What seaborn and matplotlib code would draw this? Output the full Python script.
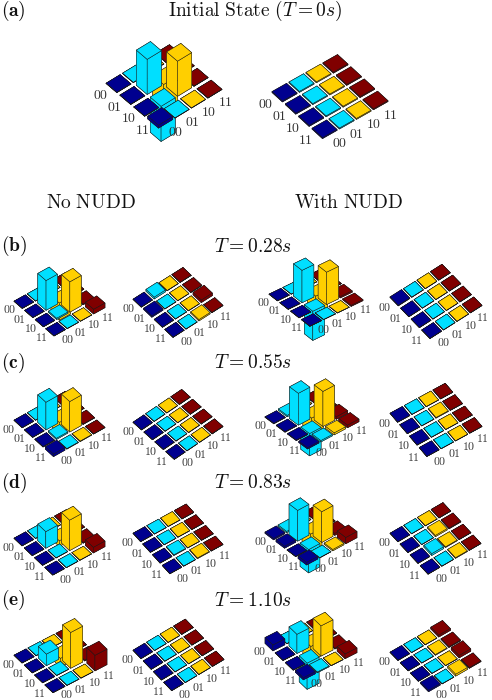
import math
import numpy as np
import matplotlib
matplotlib.use("Agg")
import matplotlib.pyplot as plt
import seaborn as sns
from mpl_toolkits.mplot3d import proj3d

sns.set_theme(style="white")
plt.rcParams["mathtext.fontset"] = "cm"

states = ["00", "01", "10", "11"]
column_colors = ["#00008f", "#00dfff", "#ffcf00", "#800000"]

a_no = [[.003, .003, .003, .003], [.003, .50, -.50, .003], [.003, -.50, .50, .003], [.04, .003, .003, .003]]
a_with = [[.012, .012, .012, .012], [.012, .012, .012, .012], [.012, .012, .012, .012], [.012, .012, .012, .012]]
b_no = [[.003, .003, .003, .003], [.003, .52, -.30, .003], [.003, .02, .53, .01], [.003, .003, .003, .08]]
b_no2 = [[.003, .035, .003, .003], [.025, .003, .003, .003], [.003, .003, .003, .05], [.003, .003, .025, .003]]
b_with = [[.003, .003, .003, .003], [.003, .50, -.30, .003], [.003, -.45, .50, .02], [.003, .003, .003, .015]]
b_with2 = [[.01, .003, .003, .003], [.003, .003, .003, .003], [.003, .003, .003, .003], [.003, .003, .003, .003]]
c_no = [[.003, .003, .003, .003], [.003, .50, -.20, .003], [.008, .02, .55, .008], [.045, .008, .008, .003]]
c_no2 = [[.003, .003, .003, .003], [.003, .003, .003, .003], [.003, .003, .003, .003], [.003, .003, .003, .003]]
c_with = [[.008, .02, .003, .003], [.008, .50, -.30, .003], [.008, -.35, .55, .04], [.02, .02, .03, .04]]
c_with2 = [[.003, .003, .003, .003], [.003, .003, .012, .003], [.003, .003, .003, .003], [.003, .003, .003, .003]]
d_no = [[.003, .003, .003, .003], [.003, .30, -.10, .003], [.003, .003, .55, .012], [.003, .003, .003, .10]]
d_no2 = [[.003, .003, .003, .003], [.003, .003, .003, .003], [.003, .012, .003, .003], [.003, .003, .012, .003]]
d_with = [[.02, .02, .003, .003], [.03, .50, -.30, .003], [.003, -.38, .50, .03], [.04, .003, .02, .10]]
d_with2 = [[.003, .003, .003, .003], [.003, .003, .025, .012], [.003, .035, .012, .003], [.003, .003, .012, .003]]
e_no = [[.003, .003, .003, .003], [.003, .20, -.15, .003], [.003, .003, .62, .012], [.003, .003, .003, .27]]
e_no2 = [[.003, .003, .003, .003], [.003, .003, .003, .003], [.003, .003, .003, .003], [.003, .003, .003, .003]]
e_with = [[.10, .003, .003, .003], [.003, .33, -.25, .003], [.003, -.45, .52, .012], [.035, .012, .003, .08]]
e_with2 = [[.003, .003, .003, .035], [.003, .003, .012, .012], [.003, .003, .003, .045], [.025, .003, .035, .012]]

panels = [a_no, a_with,
          b_no, b_no2, b_with, b_with2,
          c_no, c_no2, c_with, c_with2,
          d_no, d_no2, d_with, d_with2,
          e_no, e_no2, e_with, e_with2]

# layout: tile corners in pixels (from top-left) and camera elevation per panel
left_px = [(106, 83), (272, 92),
           (14, 301), (133, 299), (269, 294), (390, 297),
           (14, 420), (133, 422), (265, 417), (390, 413),
           (14, 538), (133, 533), (265, 533), (390, 533),
           (14, 655), (133, 650), (265, 643), (390, 652)]
right_px = [(222, 90), (388, 102),
            (105, 308), (223, 306), (363, 301), (482, 306),
            (105, 428), (223, 427), (359, 422), (482, 427),
            (105, 547), (223, 545), (357, 538), (481, 544),
            (107, 665), (224, 660), (357, 653), (481, 662)]
elevs = [46, 46,
         44, 51, 38, 54,
         46, 51, 39, 53,
         46, 51, 40, 52,
         45, 52, 44, 50]

W, H = 492, 700
fig = plt.figure(figsize=(W / 100, H / 100), dpi=100)
fig.patch.set_facecolor("white")
palette = sns.color_palette(column_colors)
GAP_X = 0.11
GAP_Y = 0.07


def project(ax, X, Y, Z):
    xs, ys, _ = proj3d.proj_transform(np.asarray(X, float), np.asarray(Y, float), np.asarray(Z, float), ax.get_proj())
    ax.apply_aspect()
    return ax.transData.transform(np.column_stack([xs, ys]))


def place(ax, lp, rp):
    trial = 300
    ax.set_position([0, 0, trial / W, trial / H])
    pts = project(ax, [GAP_X, 4 - GAP_X], [GAP_Y, 4 - GAP_Y], [0, 0])
    scale = (rp[0] - lp[0]) / (pts[1, 0] - pts[0, 0])
    mid = pts.mean(axis=0)
    cx, cy = (lp[0] + rp[0]) / 2, H - (lp[1] + rp[1]) / 2
    x0, y0 = cx - mid[0] * scale, cy - mid[1] * scale
    size = trial * scale
    ax.set_position([x0 / W, y0 / H, size / W, size / H])


for n, rho in enumerate(panels):
    lp, rp, elev = left_px[n], right_px[n], elevs[n]
    ax = fig.add_subplot(projection="3d", computed_zorder=False)
    ax.set_proj_type("ortho")
    r = (rp[1] - lp[1]) / (rp[0] - lp[0])
    azim = math.degrees(math.atan(r / math.sin(math.radians(elev)))) - 45
    ax.view_init(elev=elev, azim=azim)
    order = 0
    for i in range(4):
        for j in range(3, -1, -1):
            v = rho[i][j]
            ax.bar3d(i + GAP_X, j + GAP_Y, min(v, 0), 1 - 2 * GAP_X, 1 - 2 * GAP_Y, abs(v),
                     color=palette[j], shade=False, edgecolor="#1a1a1a",
                     linewidth=0.35, zorder=order)
            order += 1
    ax.set_xlim(0, 4)
    ax.set_ylim(0, 4)
    ax.set_zlim(-1, 1)
    ax.set_box_aspect((4, 4, 9.4))
    ax.set_axis_off()
    ax.patch.set_alpha(0)
    place(ax, lp, rp)
    bold = n < 2
    fs = 10 if bold else 8.5
    for k, s in enumerate(states):
        lab = rf"$\mathbf{{{s}}}$" if bold else f"${s}$"
        for X, Y in [(k + .5, -0.6), (4.62, k + .5)]:
            px, py = project(ax, [X], [Y], [0])[0]
            px = min(px, W - 10)
            py = max(py, 6)
            fig.text(px / W, py / H, lab, fontsize=fs, ha="center", va="center", color="#333333", zorder=100)


def label(x, y, s, size=14, ha="center"):
    fig.text(x / W, 1 - y / H, s, fontsize=size, ha=ha, va="center", color="#111111")


label(1, 11, r"$\mathbf{(a)}$", ha="left")
label(255, 11, r"$\mathrm{Initial\ State\ }(T=0s)$")
label(91, 203, r"$\mathrm{No\ NUDD}$")
label(349, 203, r"$\mathrm{With\ NUDD}$")
for y, tag, t in [(246, "b", "0.28"), (363, "c", "0.55"), (483, "d", "0.83"), (600, "e", "1.10")]:
    label(1, y, rf"$\mathbf{{({tag})}}$", ha="left")
    label(253, y, rf"$T={t}s$")

fig.savefig("out.png", dpi=100)
